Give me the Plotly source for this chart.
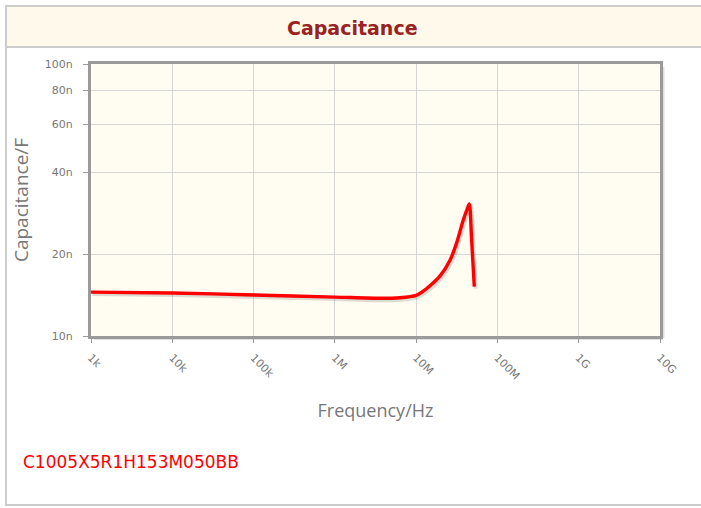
import plotly.graph_objects as go

# Data
freq_hz = [1e3, 1e4, 1e5, 1e6, 3.6e6, 6.3e6, 1.0e7, 1.2e7, 1.48e7, 1.96e7,
           2.61e7, 3.15e7, 3.8e7, 4.3e7, 4.51e7, 4.8e7, 5.19e7]
cap_f = [14.5e-9, 14.4e-9, 14.15e-9, 13.9e-9, 13.76e-9, 13.82e-9, 14.1e-9, 14.55e-9,
         15.3e-9, 16.6e-9, 19.0e-9, 22.0e-9, 26.7e-9, 29.6e-9, 30.6e-9, 23.0e-9, 15.2e-9]

x_tickvals = [1e3, 1e4, 1e5, 1e6, 1e7, 1e8, 1e9, 1e10]
x_ticktext = ["1k", "10k", "100k", "1M", "10M", "100M", "1G", "10G"]
y_tickvals = [10e-9, 20e-9, 40e-9, 60e-9, 80e-9, 100e-9]
y_ticktext = ["10n", "20n", "40n", "60n", "80n", "100n"]

part_number = "C1005X5R1H153M050BB"
title_text = "Capacitance"

W, H = 701, 508
L, R, T, B = 91, 660, 64, 336


def px(x):
    return (x - L) / (R - L)


def py(y):
    return (B - y) / (B - T)


fig = go.Figure()

# subtle shadow of the line
fig.add_trace(go.Scatter(
    x=[f * 10 ** (1.5 / 81.3) for f in freq_hz],
    y=[c * 10 ** (-2 / 272) for c in cap_f],
    mode="lines", line=dict(color="rgba(0,0,0,0.13)", width=4, shape="spline", smoothing=0.8),
    hoverinfo="skip", showlegend=False))

fig.add_trace(go.Scatter(
    x=freq_hz, y=cap_f, mode="lines",
    line=dict(color="#FF0000", width=3.4, shape="spline", smoothing=0.8),
    showlegend=False))

axis_font = dict(family="DejaVu Sans, Verdana, sans-serif", size=11, color="#777777")

fig.update_xaxes(
    type="log", range=[3, 10], tickvals=x_tickvals, ticktext=x_ticktext,
    tickangle=45, tickfont=axis_font, ticklabelstandoff=4,
    showgrid=True, gridcolor="#D6D6D6", gridwidth=1,
    showline=True, linecolor="#9A9A9A", linewidth=3, mirror=True,
    ticks="outside", ticklen=4, tickcolor="#9A9A9A", tickwidth=1,
    zeroline=False,
    title=dict(text="Frequency/Hz", font=dict(family="Open Sans, DejaVu Sans, sans-serif",
                                               size=18, color="#777777"), standoff=24),
)
fig.update_yaxes(
    type="log", range=[-8, -7], tickvals=y_tickvals, ticktext=y_ticktext,
    tickfont=axis_font, ticklabelstandoff=8,
    showgrid=True, gridcolor="#D6D6D6", gridwidth=1,
    showline=True, linecolor="#9A9A9A", linewidth=3, mirror=True,
    ticks="outside", ticklen=5, tickcolor="#9A9A9A", tickwidth=1,
    zeroline=False,
    title=dict(text="Capacitance/F", font=dict(family="Open Sans, DejaVu Sans, sans-serif",
                                                size=19, color="#777777"), standoff=12),
)

shapes = [
    # outer box
    dict(type="rect", xref="paper", yref="paper", x0=px(6), x1=px(704), y0=py(505), y1=py(6),
         line=dict(color="#CCCCCC", width=2), fillcolor="rgba(0,0,0,0)", layer="below"),
    # header band
    dict(type="rect", xref="paper", yref="paper", x0=px(6), x1=px(704), y0=py(47), y1=py(6),
         line=dict(color="#CCCCCC", width=2), fillcolor="#FEF9EA", layer="below"),
    # frame shadow
    dict(type="line", xref="paper", yref="paper", x0=px(663), x1=px(663), y0=py(338), y1=py(67),
         line=dict(color="rgba(0,0,0,0.12)", width=3), layer="below"),
    dict(type="line", xref="paper", yref="paper", x0=px(94), x1=px(663), y0=py(338.5), y1=py(338.5),
         line=dict(color="rgba(0,0,0,0.12)", width=3), layer="below"),
]

annotations = [
    dict(text="<b>" + title_text + "</b>", xref="paper", yref="paper", x=px(352), y=py(28),
         showarrow=False, xanchor="center", yanchor="middle",
         font=dict(family="DejaVu Sans, sans-serif", size=19, color="#992222")),
    dict(text=part_number, xref="paper", yref="paper", x=px(21), y=py(462),
         showarrow=False, xanchor="left", yanchor="middle",
         font=dict(family="DejaVu Sans, sans-serif", size=17, color="#FF0000")),
]

fig.update_layout(
    width=W, height=H,
    margin=dict(l=L, r=W - R, t=T, b=H - B),
    paper_bgcolor="#FFFFFF", plot_bgcolor="#FFFCF2",
    shapes=shapes, annotations=annotations,
    showlegend=False,
)

fig.write_html("out.html", config={"displayModeBar": False},
               post_script="document.body.style.margin='0';document.body.style.overflow='hidden';")
